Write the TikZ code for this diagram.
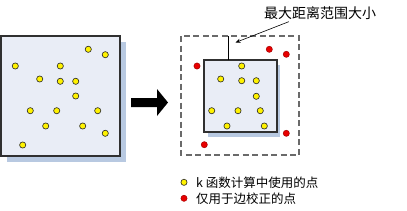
\documentclass[tikz,border=0pt]{standalone}
\usepackage{fontspec}
\newfontfamily\cjk{Noto Sans CJK SC}
\usetikzlibrary{arrows.meta}

\definecolor{boxfill}{HTML}{E9EDF6}
\definecolor{boxshadow}{HTML}{B8C9E1}
\definecolor{boxline}{HTML}{303030}
\definecolor{dashgray}{HTML}{6A6A6A}
\definecolor{dotred}{HTML}{E80000}

\tikzset{
  ydot/.style={circle, draw=black!85, fill=yellow, line width=0.6, inner sep=0, minimum size=6.2},
  rdot/.style={circle, draw=red!65!black, fill=dotred, line width=0.5, inner sep=0, minimum size=6.2},
  cjktext/.style={inner sep=0, font=\cjk\fontsize{12.5}{14}\selectfont},
}

\begin{document}
\begin{tikzpicture}[x=1pt,y=-1pt]
\useasboundingbox (0,0) rectangle (407,210);

% left window with all points
\fill[boxshadow] (7,42) rectangle (126,162);
\draw[boxline, line width=1.2, fill=boxfill] (1,36) rectangle (120,156);
\foreach \px/\py [count=\i] in {88.3/49.3, 105.3/54.7, 15.3/66, 60.3/66, 39.7/79,
    60.3/81.3, 75.7/81.3, 75.7/96, 30.3/110.7, 56.7/110.7, 97.7/110.7,
    45.7/126, 82.7/126, 105.3/133.3, 22.7/145}
  \node[ydot] (a\i) at (\px,\py) {};

% big arrow
\fill[black] (131,98) -- (157,98) -- (157,89) -- (168,102.5) -- (157,116)
  -- (157,107) -- (131,107) -- cycle;

% right window: outer dashed range and inner box
\draw[dashgray, line width=1.3, dash pattern=on 6pt off 3.5pt] (181,36) rectangle (299,155);
\fill[boxshadow] (208,65) rectangle (280,137);
\draw[boxline, line width=1.2, fill=boxfill] (204,60) rectangle (277,132);
\draw[black, line width=1.2] (228.3,60) -- (228.3,36);

\foreach \px/\py [count=\i] in {241.7/66, 220.7/79, 241.7/80.7, 256.3/80.7,
    256.3/96.3, 211.7/110.7, 238/110.7, 260.3/110.7, 227/126, 264.3/126}
  \node[ydot] (b\i) at (\px,\py) {};
\foreach \px/\py [count=\i] in {269.3/49.3, 286.3/54.3, 197/66, 286.3/133.3, 204.3/144.7}
  \node[rdot] (r\i) at (\px,\py) {};

% label of max distance
\node[inner sep=0, font=\cjk\fontsize{14}{16}\selectfont] (title) at (320,13) {最大距离范围大小};
\coordinate (tip) at (235.5,42.5);
\draw[-{Stealth[length=5pt,width=4pt]}, line width=0.6]
  ([xshift=25pt,yshift=-2pt]title.south west) -- (tip);

% legend
\node[ydot] (ykey) at (184,182.3) {};
\node[cjktext, anchor=west] (ytext) at (196,182.3) {k 函数计算中使用的点};
\node[rdot] (rkey) at (184,198.3) {};
\node[cjktext, anchor=west] (rtext) at (196,198.3) {仅用于边校正的点};

\end{tikzpicture}
\end{document}
